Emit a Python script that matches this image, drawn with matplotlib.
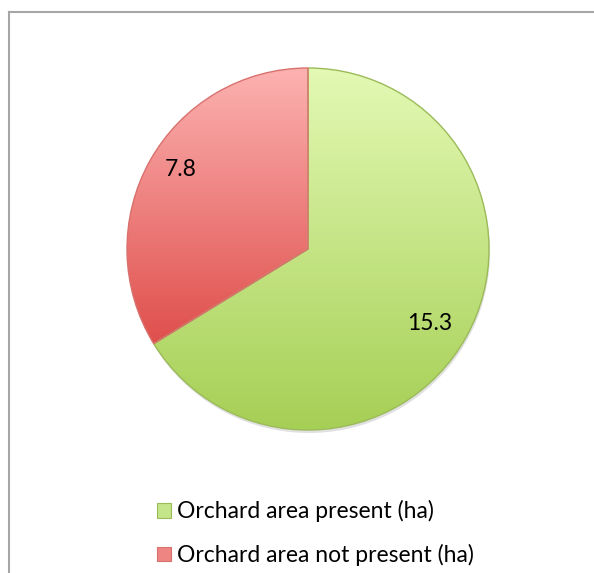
import numpy as np
import matplotlib
matplotlib.use("Agg")
import matplotlib.pyplot as plt
from matplotlib.patches import Patch
from matplotlib.colors import LinearSegmentedColormap

labels = ["Orchard area present (ha)", "Orchard area not present (ha)"]
values = [15.3, 7.8]
top_colors = ["#e3f9b4", "#fcb2b1"]
bottom_colors = ["#a6cf55", "#df4f4c"]
edge_colors = ["#9bbb59", "#d8716e"]

W, H = 594, 573
plt.rcParams["font.family"] = ["Lato", "DejaVu Sans"]
fig = plt.figure(figsize=(W / 100, H / 100), dpi=100)
ax = fig.add_axes([0, 0, 1, 1])

cx, cy, r = 308, H - 249, 181

wedges, _ = ax.pie(values, startangle=90, counterclock=False,
                   center=(cx, cy), radius=r, frame=True,
                   wedgeprops=dict(linewidth=1.0))
ax.set_xlim(0, W)
ax.set_ylim(0, H)
ax.set_aspect("equal")
ax.axis("off")

# subtle shadow
shadow = plt.Circle((cx + 1, cy - 3), r, color="#000000", alpha=0.12, zorder=0, lw=0)
ax.add_patch(shadow)

for w, tc, bc, ec in zip(wedges, top_colors, bottom_colors, edge_colors):
    w.set_facecolor("none")
    w.set_edgecolor(ec)
    w.set_zorder(3)
    verts = w.get_path().vertices
    y0, y1 = verts[:, 1].min(), verts[:, 1].max()
    x0, x1 = verts[:, 0].min(), verts[:, 0].max()
    cmap = LinearSegmentedColormap.from_list("g", [bc, tc])
    grad = np.linspace(0, 1, 256).reshape(-1, 1)
    im = ax.imshow(grad, cmap=cmap, origin="lower", extent=(x0, x1, y0, y1),
                   aspect="auto", zorder=2)
    im.set_clip_path(w)

ax.set_xlim(0, W)
ax.set_ylim(0, H)

ax.text(430, H - 323, "15.3", fontsize=16.5, ha="center", va="center", zorder=5)
ax.text(181, H - 170, "7.8", fontsize=16.5, ha="center", va="center", zorder=5)

# frame border (top and left visible)
ax.plot([8.5, W], [H - 11.5, H - 11.5], color="#a6a6a6", lw=1.5, zorder=1)
ax.plot([8.5, 8.5], [0, H - 11.5], color="#a6a6a6", lw=1.5, zorder=1)

handles = [Patch(facecolor=c, edgecolor=e, linewidth=0.8)
           for c, e in zip(["#c4e589", "#ee8583"], edge_colors)]
leg = ax.legend(handles, labels, loc="upper left",
                bbox_to_anchor=(148 / W, 1 - 491 / H), frameon=False,
                fontsize=16.5, handlelength=0.62, handleheight=0.62,
                handletextpad=0.25, labelspacing=0.95, borderaxespad=0)

fig.savefig("out.png", dpi=100)
